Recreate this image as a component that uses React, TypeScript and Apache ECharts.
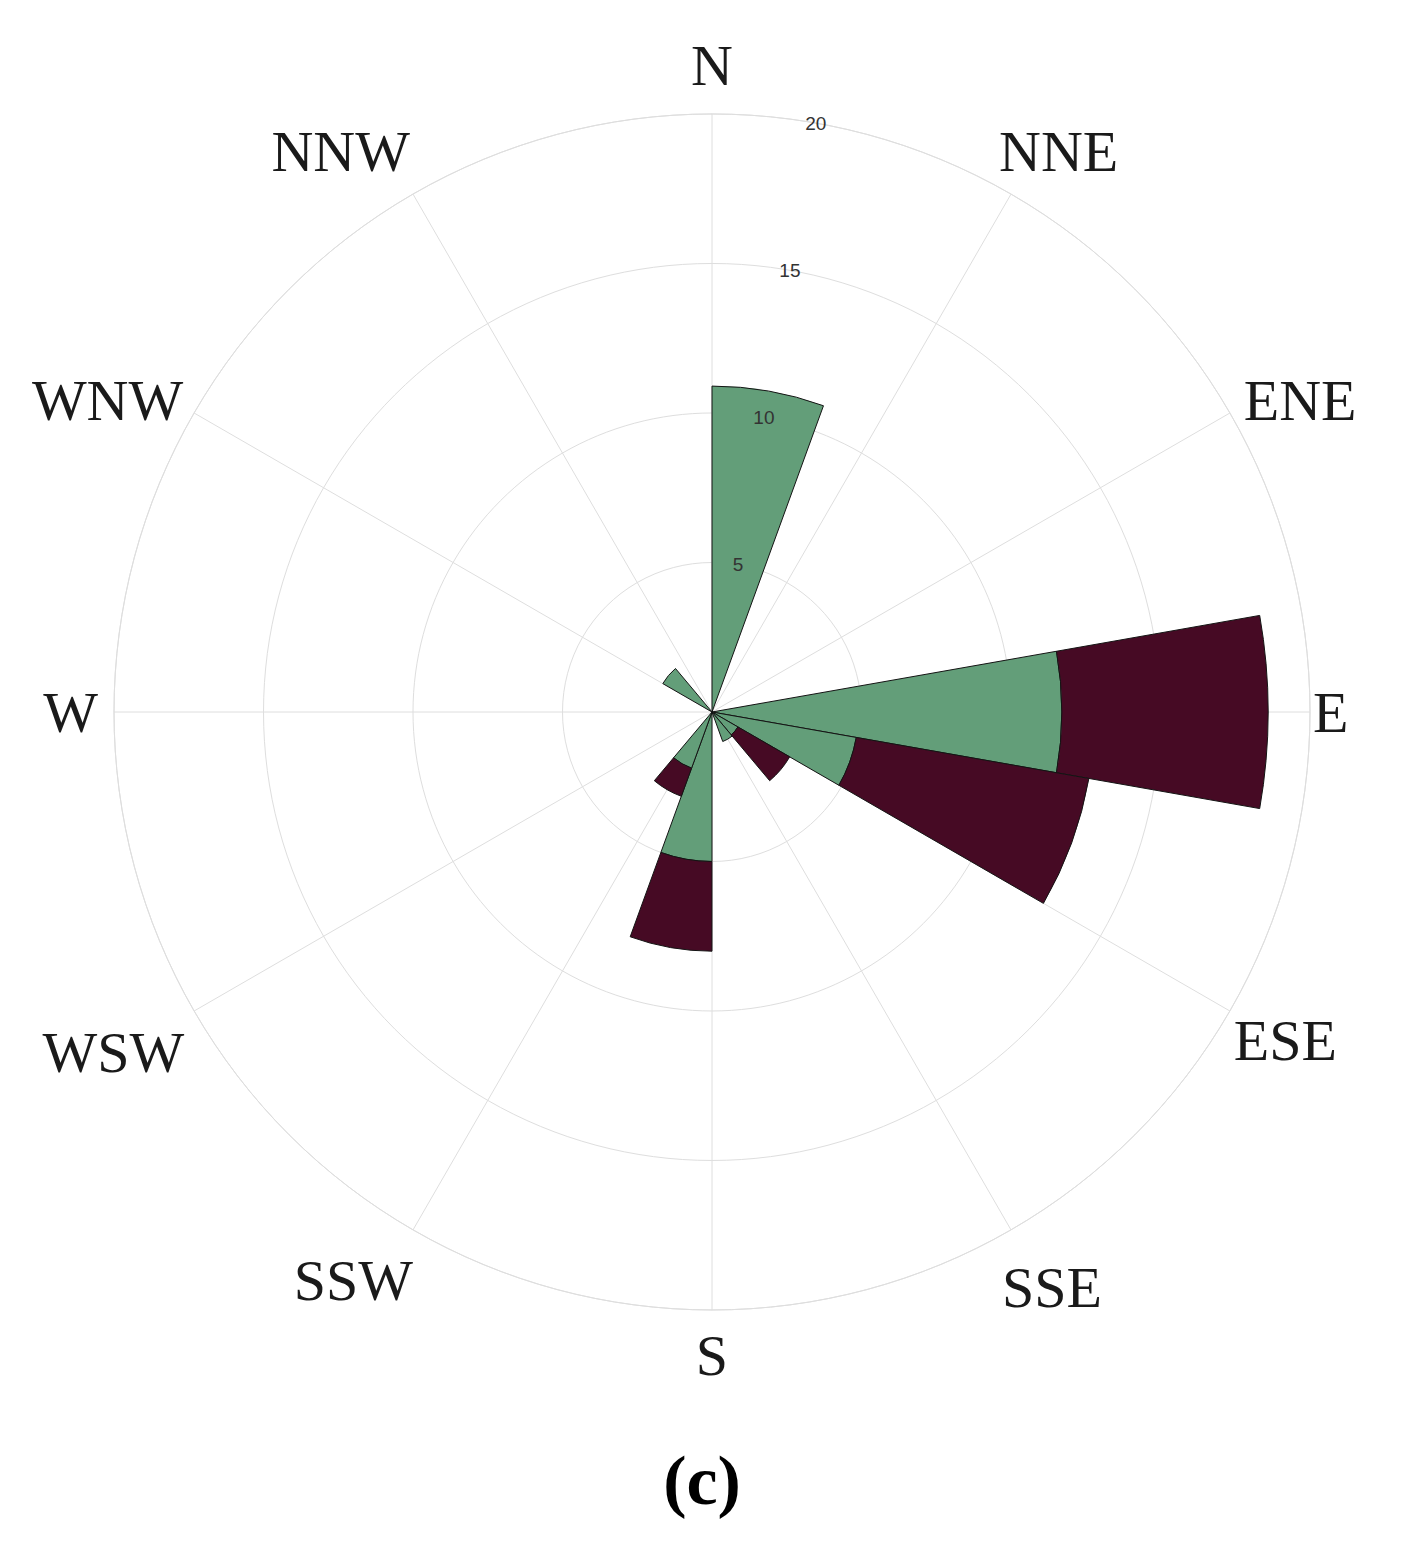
import React, { useEffect, useRef } from "react";
import * as echarts from "echarts";

// 20-degree direction bins (clockwise from north)
const bins = [
  "0-20", "20-40", "40-60", "60-80", "80-100", "100-120",
  "120-140", "140-160", "160-180", "180-200", "200-220", "220-240",
  "240-260", "260-280", "280-300", "300-320", "320-340", "340-360",
];
// frequency (%) of the lower class (green) and upper class (dark)
const lowerClass = [10.9, 0, 0, 0, 11.7, 4.9, 1.0, 1.05, 0, 5.0, 2.0, 0, 0, 0, 0, 1.9, 0, 0];
const upperClass = [0, 0, 0, 0, 6.9, 7.9, 2.0, 0, 0, 3.0, 1.0, 0, 0, 0, 0, 0, 0, 0];

// compass labels at 30-degree spokes
const directionLabels = ["N", "NNE", "ENE", "E", "ESE", "SSE", "S", "SSW", "WSW", "W", "WNW", "NNW"];
// radial ticks
const radialMin = 0;
const radialMax = 20;
const radialStep = 5;
const spokeStep = 30;

const panelLabel = "(c)";

export default function App() {
  const ref = useRef<HTMLDivElement>(null);

  useEffect(() => {
    if (!ref.current) return;
    const chart = echarts.init(ref.current, null, { renderer: "svg" });
    const center = [712, 712];
    const radius = 598;
    const gridColor = "#dedede";

    // fine placement of each compass label: [top, right, bottom, left]
    const labelPadding: number[][] = [
      [0, 0, 4, 0],     // N
      [0, 0, 0, -20],   // NNE
      [0, 0, -24, 0],   // ENE
      [0, 0, 0, -13],   // E
      [-8, 0, 0, -10],  // ESE
      [15, 0, 0, -17],  // SSE
      [0, 0, 0, 0],     // S
      [8, -8, 0, 0],    // SSW
      [4, -4, 0, 0],    // WSW
      [0, 0, 0, 0],     // W
      [0, -3, -24, 0],  // WNW
      [0, -5, 0, 0],    // NNW
    ];

    const option = {
      animation: false,
      backgroundColor: "#ffffff",
      title: {
        text: panelLabel,
        left: "center",
        top: 1440,
        textStyle: {
          fontFamily: "Liberation Serif",
          fontWeight: "bold",
          fontSize: 70,
          color: "#000",
        },
      },
      polar: [
        { center, radius },
        { center, radius },
        { center, radius },
        { center, radius },
      ],
      angleAxis: [
        {
          // bars
          polarIndex: 0,
          type: "category",
          data: bins,
          startAngle: 90,
          clockwise: true,
          boundaryGap: true,
          axisLine: { show: false },
          axisTick: { show: false },
          axisLabel: { show: false },
          splitLine: { show: false },
        },
        {
          // grid spokes + outer circle
          polarIndex: 1,
          type: "value",
          min: 0,
          max: 360,
          interval: spokeStep,
          startAngle: 90,
          clockwise: true,
          z: 0,
          axisLine: { show: true, lineStyle: { color: gridColor, width: 1 } },
          axisTick: { show: false },
          axisLabel: { show: false },
          splitLine: { show: true, lineStyle: { color: gridColor, width: 1 } },
        },
        {
          // radial tick labels axis (rotated)
          polarIndex: 2,
          type: "value",
          min: 0,
          max: 360,
          startAngle: 80,
          show: false,
        },
        {
          // compass labels
          polarIndex: 3,
          type: "category",
          data: directionLabels.map((name, i) => ({
            value: name,
            textStyle: { padding: labelPadding[i] },
          })),
          startAngle: 90,
          clockwise: true,
          boundaryGap: false,
          axisLine: { show: false },
          axisTick: { show: false },
          splitLine: { show: false },
          axisLabel: {
            show: true,
            interval: 0,
            margin: 16,
            fontFamily: "Liberation Serif",
            fontSize: 58,
            color: "#1a1a1a",
          },
        },
      ],
      radiusAxis: [
        {
          polarIndex: 0,
          type: "value",
          min: radialMin,
          max: radialMax,
          show: false,
        },
        {
          polarIndex: 1,
          type: "value",
          min: radialMin,
          max: radialMax,
          interval: radialStep,
          z: 0,
          axisLine: { show: false },
          axisTick: { show: false },
          axisLabel: { show: false },
          splitLine: { show: true, lineStyle: { color: gridColor, width: 1 } },
        },
        {
          polarIndex: 2,
          type: "value",
          min: radialMin,
          max: radialMax,
          interval: radialStep,
          z: 10,
          axisLine: { show: false },
          axisTick: { show: false },
          splitLine: { show: false },
          axisLabel: {
            show: true,
            showMinLabel: false,
            margin: 0,
            align: "center",
            verticalAlign: "middle",
            fontFamily: "Liberation Sans",
            fontSize: 19,
            color: "#333",
          },
        },
        {
          polarIndex: 3,
          type: "value",
          min: radialMin,
          max: radialMax,
          show: false,
        },
      ],
      series: [
        {
          name: "lower",
          type: "bar",
          coordinateSystem: "polar",
          polarIndex: 0,
          stack: "total",
          barCategoryGap: "0%",
          data: lowerClass.map((v) => (v > 0 ? v : null)),
          itemStyle: { color: "#639e79", borderColor: "#141414", borderWidth: 1 },
          z: 2,
        },
        {
          name: "upper",
          type: "bar",
          coordinateSystem: "polar",
          polarIndex: 0,
          stack: "total",
          barCategoryGap: "0%",
          data: upperClass.map((v) => (v > 0 ? v : null)),
          itemStyle: { color: "#460a24", borderColor: "#141414", borderWidth: 1 },
          z: 2,
        },
      ],
    };

    chart.setOption(option as any);
    return () => chart.dispose();
  }, []);

  return (
    <div
      ref={ref}
      style={{ position: "absolute", left: 0, top: 0, width: 1404, height: 1556 }}
    />
  );
}
